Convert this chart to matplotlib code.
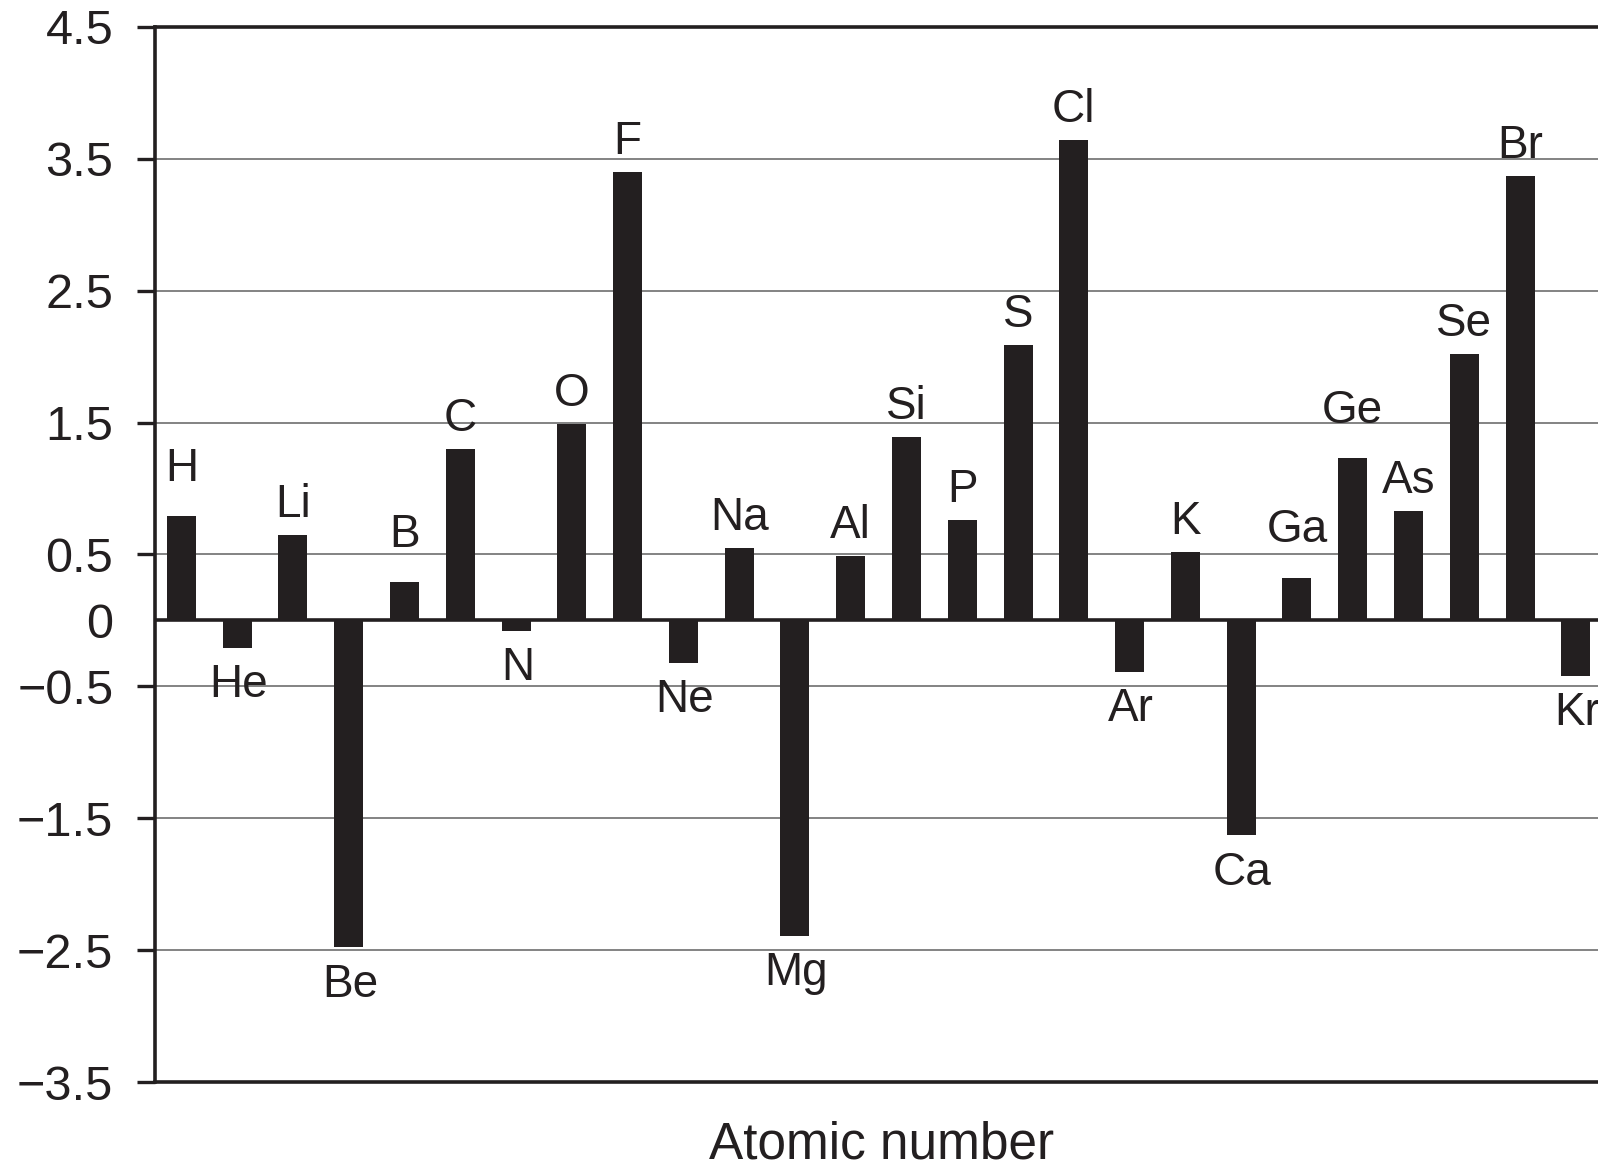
import matplotlib
matplotlib.use("Agg")
import matplotlib.pyplot as plt

# electron affinity per element, in the order drawn (transition metals skipped)
elements = ["H", "He", "Li", "Be", "B", "C", "N", "O", "F", "Ne",
            "Na", "Mg", "Al", "Si", "P", "S", "Cl", "Ar",
            "K", "Ca", "Ga", "Ge", "As", "Se", "Br", "Kr"]
affinity = [0.79, -0.21, 0.65, -2.48, 0.29, 1.30, -0.08, 1.49, 3.40, -0.32,
            0.55, -2.39, 0.49, 1.39, 0.76, 2.09, 3.64, -0.39,
            0.52, -1.63, 0.32, 1.23, 0.83, 2.02, 3.37, -0.42]
ytick_vals = [4.5, 3.5, 2.5, 1.5, 0.5, 0, -0.5, -1.5, -2.5, -3.5]
ytick_text = ["4.5", "3.5", "2.5", "1.5", "0.5", "0",
              "\u22120.5", "\u22121.5", "\u22122.5", "\u22123.5"]
grid_vals = [3.5, 2.5, 1.5, 0.5, -0.5, -1.5, -2.5]

# a few labels sit higher above their bars in the original
extra_lift = {"H": 12, "B": 12, "Ga": 13, "Ge": 12}

ink = "#231f20"
plt.rcParams["font.family"] = ["Liberation Sans", "DejaVu Sans"]

fig = plt.figure(figsize=(15.98, 11.69), dpi=100)
ax = fig.add_axes([0.097, 0.0744, 1.006 - 0.097, 0.977 - 0.0744])

x = list(range(len(elements)))
ax.bar(x, affinity, width=0.52, color=ink, zorder=3)

for g in grid_vals:
    ax.axhline(g, color="#7a7a7a", lw=1.3, zorder=1)
ax.axhline(0, color=ink, lw=2.6, zorder=4)

for xi, name, v in zip(x, elements, affinity):
    if v >= 0:
        ax.annotate(name, (xi, v), xytext=(0, 13 + extra_lift.get(name, 0)),
                    textcoords="offset points", ha="center", va="baseline",
                    fontsize=33, color=ink)
    else:
        ax.annotate(name, (xi, v), xytext=(1, -11), textcoords="offset points",
                    ha="center", va="top", fontsize=33, color=ink)

ax.set_xlim(-0.473, 25.57)
ax.set_ylim(-3.5, 4.5)
ax.set_xticks([])
ax.set_yticks(ytick_vals)
ax.set_yticklabels(ytick_text)
ax.tick_params(axis="y", direction="out", length=13, width=2.4, pad=17,
               labelsize=35, colors=ink)
# no tick mark at zero
ax.yaxis.get_major_ticks()[ytick_vals.index(0)].tick1line.set_visible(False)

for side in ["left", "top", "bottom"]:
    ax.spines[side].set_linewidth(2.6)
    ax.spines[side].set_color(ink)
ax.spines["right"].set_visible(False)

ax.set_xlabel("Atomic number", fontsize=37, color=ink, labelpad=28)

fig.savefig("out.png", dpi=100)
